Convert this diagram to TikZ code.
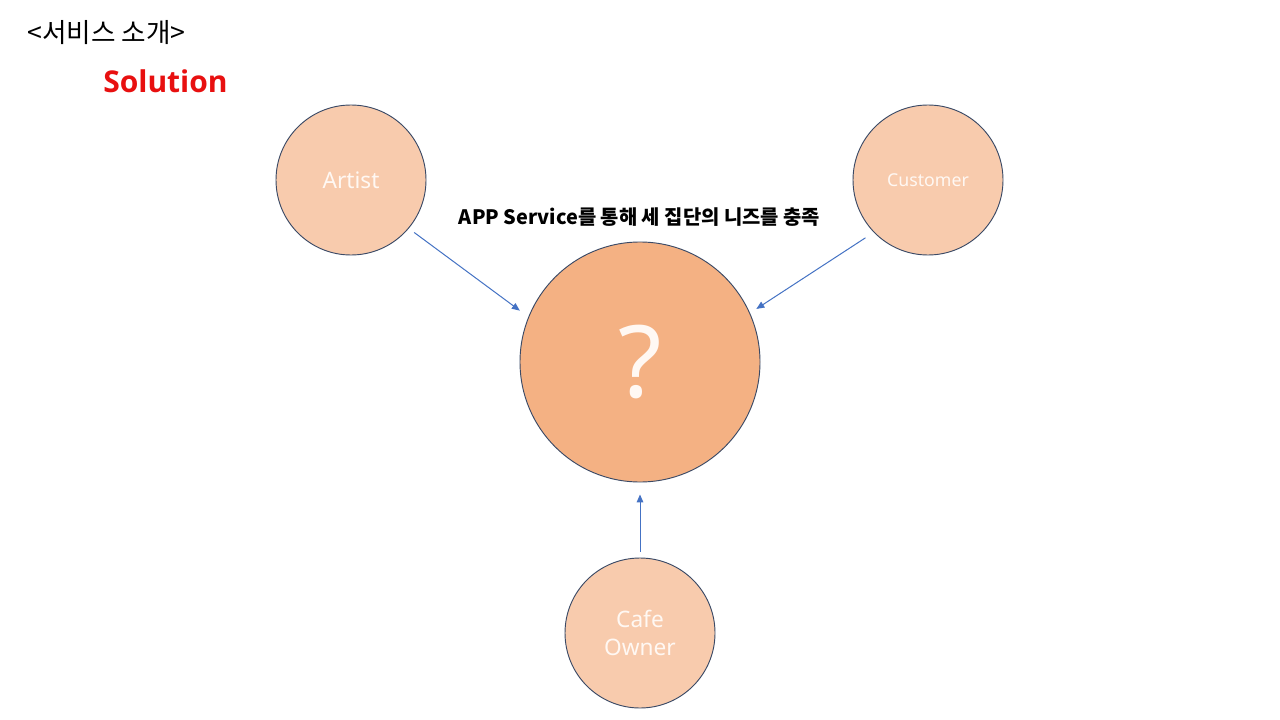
\documentclass[tikz,border=0pt]{standalone}
\usepackage{fontspec}
\setmainfont{Noto Sans}
\newfontfamily\kr{Noto Sans CJK KR}
\newfontfamily\solf{Open Sans}
\usetikzlibrary{arrows.meta}
\definecolor{lightor}{HTML}{F8CBAD}
\definecolor{midor}{HTML}{F4B183}
\definecolor{rim}{HTML}{3B4A66}
\definecolor{arr}{HTML}{4472C4}
\definecolor{redt}{HTML}{E81010}
\definecolor{labw}{HTML}{FFF8F3}
\begin{document}
\begin{tikzpicture}[x=0.75pt,y=-0.75pt,
  bub/.style={circle,draw=rim,line width=0.7pt,fill=lightor,inner sep=0pt,text=labw,align=center},
  conn/.style={draw=arr,line width=0.75pt,-{Triangle[length=6pt,width=5pt]}}]
\useasboundingbox (0,0) rectangle (1280,720);
\fill[white] (0,0) rectangle (1280,720);
\node[anchor=west,inner sep=0pt,font=\kr\fontsize{20}{22}\selectfont] (title) at (27,33) {<서비스 소개>};
\node[anchor=west,inner sep=0pt,font=\solf\bfseries\fontsize{22.5}{26}\selectfont,text=redt] (sol) at (103,81) {Solution};
\node[inner sep=0pt,font=\kr\bfseries\fontsize{14.9}{17}\selectfont] (cap) at (639.5,217) {APP Service를 통해 세 집단의 니즈를 충족};
\node[bub,minimum size=150*0.75pt,font=\fontsize{17}{19}\selectfont] (a) at (351,180) {Artist};
\node[bub,minimum size=150*0.75pt,font=\fontsize{13.3}{15}\selectfont] (cu) at (928,180) {Customer};
\node[bub,minimum size=240*0.75pt,fill=midor,font=\fontsize{75}{75}\selectfont] (c) at (640,362) {?};
\node[bub,minimum size=150*0.75pt,font=\fontsize{17}{21}\selectfont] (o) at (640,633) {Cafe\\Owner};
\draw[conn,shorten <=5pt,shorten >=7.9pt] (a.-40.5) -- (c.158);
\draw[conn,shorten <=7.4pt,shorten >=5.6pt] (cu.-136) -- (c.24.6);
\draw[conn,shorten <=4.5pt,shorten >=9pt] (o.north) -- (c.south);
\end{tikzpicture}
\end{document}
